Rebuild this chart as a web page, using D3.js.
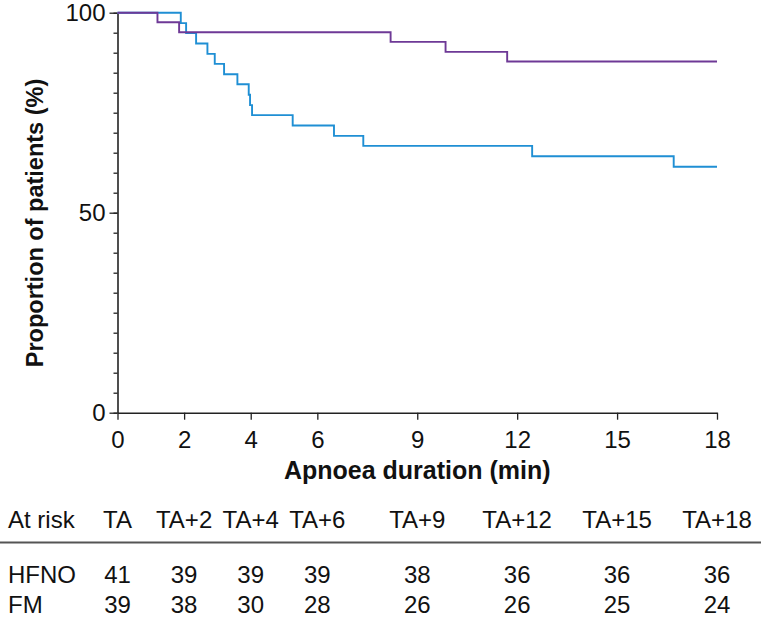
<!DOCTYPE html>
<html>
<head>
<meta charset="utf-8">
<script src="https://cdn.jsdelivr.net/npm/d3@7"></script>
<style>
  html, body { margin: 0; padding: 0; background: #fff; }
  svg { display: block; }
  text { font-family: "Liberation Sans", Arial, sans-serif; fill: #111; }
</style>
</head>
<body>
<svg id="chart" width="761" height="617"></svg>
<script>
// ---- data ----
const xTicks = [0, 2, 4, 6, 9, 12, 15, 18];
const yMajorTicks = [0, 50, 100];
const yMinorTicks = d3.range(0, 101, 5);

const hfnoTimes  = [0, 1.2, 1.85, 8.2, 9.85, 11.7, 18];
const hfnoValues = [100, 97.6, 95.1, 92.7, 90.2, 87.8, 87.8];

const fmTimes  = [0, 1.9, 2.06, 2.36, 2.7, 2.92, 3.2, 3.6, 3.94, 3.98, 4.04, 5.26, 6.5, 7.38, 12.45, 16.7, 18];
const fmValues = [100, 97.4, 94.9, 92.3, 89.7, 87.2, 84.6, 82.1, 79.5, 76.9, 74.4, 71.8, 69.2, 66.7, 64.1, 61.5, 61.5];

const riskHeaderLabel = "At risk";
const riskColumns = ["TA", "TA+2", "TA+4", "TA+6", "TA+9", "TA+12", "TA+15", "TA+18"];
const riskGroups = ["HFNO", "FM"];
const hfnoAtRisk = [41, 39, 39, 39, 38, 36, 36, 36];
const fmAtRisk   = [39, 38, 30, 28, 26, 26, 25, 24];

const xTitle = "Apnoea duration (min)";
const yTitle = "Proportion of patients (%)";

// ---- layout ----
const svg = d3.select("#chart");
const plotLeft = 117.5, plotRight = 717, plotTop = 12.7, plotBottom = 412.7;
const x = d3.scaleLinear().domain([0, 18]).range([plotLeft, plotRight]);
const y = d3.scaleLinear().domain([0, 100]).range([plotBottom, plotTop]);

const axisColor = "#222";
const tickFont = "24px";

// y axis minor ticks
const yMinor = svg.append("g").attr("transform", `translate(${plotLeft},0)`)
  .call(d3.axisLeft(y).tickValues(yMinorTicks).tickSize(4).tickFormat(""));
yMinor.select(".domain").remove();
yMinor.selectAll("line").attr("stroke", axisColor).attr("stroke-width", 1.3);

// y axis major
const yAx = svg.append("g").attr("transform", `translate(${plotLeft},0)`)
  .call(d3.axisLeft(y).tickValues(yMajorTicks).tickSize(8).tickSizeOuter(0).tickPadding(4));
yAx.select(".domain").attr("stroke", axisColor).attr("stroke-width", 1.6);
yAx.selectAll("line").attr("stroke", axisColor).attr("stroke-width", 1.3);
yAx.selectAll("text").style("font-size", tickFont).attr("fill", "#111")
  .style("font-family", "'Liberation Sans', Arial, sans-serif");

// x axis
const xAx = svg.append("g").attr("transform", `translate(0,${plotBottom})`)
  .call(d3.axisBottom(x).tickValues(xTicks).tickSize(7).tickSizeOuter(0).tickPadding(11));
xAx.select(".domain").attr("stroke", axisColor).attr("stroke-width", 1.6);
xAx.selectAll("line").attr("stroke", axisColor).attr("stroke-width", 1.3);
xAx.selectAll("text").style("font-size", tickFont).attr("fill", "#111")
  .style("font-family", "'Liberation Sans', Arial, sans-serif");

// curves
const line = d3.line()
  .x(d => x(d[0])).y(d => y(d[1]))
  .curve(d3.curveStepAfter);

const fm = fmTimes.map((t, i) => [t, fmValues[i]]);
const hfno = hfnoTimes.map((t, i) => [t, hfnoValues[i]]);

svg.append("path").datum(fm)
  .attr("d", line).attr("fill", "none")
  .attr("stroke", "#1f8fd4").attr("stroke-width", 1.9);
svg.append("path").datum(hfno)
  .attr("d", line).attr("fill", "none")
  .attr("stroke", "#6e3996").attr("stroke-width", 1.9);

// titles
svg.append("text")
  .attr("x", (plotLeft + plotRight) / 2).attr("y", 479)
  .attr("text-anchor", "middle")
  .style("font-size", "25px").style("font-weight", "bold")
  .text(xTitle);

svg.append("text")
  .attr("transform", `translate(43,223) rotate(-90)`)
  .attr("text-anchor", "middle")
  .style("font-size", "23.5px").style("font-weight", "bold")
  .text(yTitle);

// at-risk table
const tableFont = "24px";
svg.append("text").attr("x", 8).attr("y", 528)
  .style("font-size", tableFont).text(riskHeaderLabel);
svg.selectAll(".riskcol").data(riskColumns).enter().append("text")
  .attr("x", (d, i) => x(xTicks[i])).attr("y", 528)
  .attr("text-anchor", "middle").style("font-size", tableFont)
  .text(d => d);

svg.append("line").attr("x1", 0).attr("x2", 761)
  .attr("y1", 542.5).attr("y2", 542.5)
  .attr("stroke", "#555").attr("stroke-width", 2);

const rows = [hfnoAtRisk, fmAtRisk];
const rowY = [583, 613];
rows.forEach((vals, r) => {
  svg.append("text").attr("x", 8).attr("y", rowY[r])
    .style("font-size", tableFont).text(riskGroups[r]);
  svg.selectAll(".row" + r).data(vals).enter().append("text")
    .attr("x", (d, i) => x(xTicks[i])).attr("y", rowY[r])
    .attr("text-anchor", "middle").style("font-size", tableFont)
    .text(d => d);
});
</script>
</body>
</html>
